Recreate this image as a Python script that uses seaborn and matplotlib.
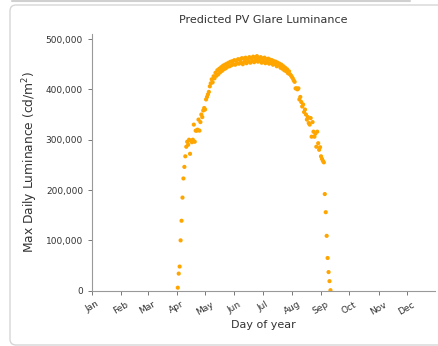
import numpy as np
import pandas as pd
import matplotlib
matplotlib.use('Agg')
import matplotlib.pyplot as plt
import matplotlib.ticker as mticker
from matplotlib.patches import FancyBboxPatch
from matplotlib.transforms import IdentityTransform
import seaborn as sns

# Max daily glare luminance (thousand cd/m2), one value per day from day 92 to day 254
first_day = 92
lum_k = [
    6, 34, 48, 100, 139, 185, 223, 246, 267, 286,
    296, 290, 300, 272, 298, 295, 300, 330, 296, 318,
    318, 320, 340, 318, 335, 350, 345, 358, 363, 360,
    380, 385, 390, 395, 406, 412, 420, 414, 426, 422,
    433, 427, 438, 430, 441, 434, 444, 437, 447, 440,
    449, 442, 451, 445, 453, 446, 455, 448, 456, 450,
    458, 449, 457, 452, 460, 451, 459, 454, 462, 450,
    461, 455, 463, 452, 460, 456, 464, 453, 462, 457,
    465, 454, 463, 458, 466, 455, 462, 457, 464, 453,
    461, 455, 463, 452, 460, 454, 461, 451, 459, 453,
    458, 449, 456, 451, 455, 446, 453, 448, 451, 443,
    449, 441, 446, 438, 443, 436, 440, 432, 436, 430,
    428, 425, 422, 418, 415, 402, 402, 400, 402, 380,
    385, 375, 366, 370, 355, 360, 350, 340, 345, 333,
    330, 343, 306, 335, 316, 306, 312, 286, 316, 293,
    280, 285, 267, 262, 258, 255, 192, 156, 109, 65,
    37, 19, 1,
]
month_days = [1, 32, 60, 91, 121, 152, 182, 213, 244, 274, 305, 335]
month_labels = ['Jan', 'Feb', 'Mar', 'Apr', 'May', 'Jun',
                'Jul', 'Aug', 'Sep', 'Oct', 'Nov', 'Dec']

df = pd.DataFrame({
    'day': np.arange(first_day, first_day + len(lum_k)),
    'lum': np.array(lum_k) * 1000,
})

sns.set_style('ticks')
plt.rcParams['font.family'] = ['DejaVu Sans']

fig = plt.figure(figsize=(4.39, 3.46), dpi=100)

# screenshot card frame
fig.patches.append(FancyBboxPatch((10, 1), 520, 340, boxstyle='round,pad=0,rounding_size=6',
                                  transform=IdentityTransform(), facecolor='white',
                                  edgecolor='#d6d6d6', linewidth=1.0, zorder=-5))
fig.lines.append(plt.Line2D([12, 410], [345, 345], transform=IdentityTransform(),
                            color='#d0d0d0', linewidth=1.5))

ax = fig.add_axes([0.2096, 0.1598, 0.7814, 0.7419])
sns.scatterplot(data=df, x='day', y='lum', ax=ax, color='orange',
                s=9, linewidth=0, edgecolor='none')

ax.set_xlim(1, 365)
ax.set_ylim(0, 510000)
ax.set_xticks(month_days)
ax.set_xticklabels(month_labels, rotation=30, fontsize=6.5, color='#333333')
ax.set_yticks([0, 100000, 200000, 300000, 400000, 500000])
ax.yaxis.set_major_formatter(mticker.StrMethodFormatter('{x:,.0f}'))
ax.tick_params(axis='y', labelsize=6.5, colors='#333333')
ax.tick_params(axis='both', length=3, width=0.7, color='#777777')
for sp in ['left', 'bottom']:
    ax.spines[sp].set_color('#999999')
    ax.spines[sp].set_linewidth(0.8)
sns.despine(ax=ax)

ax.set_title('Predicted PV Glare Luminance', fontsize=8, color='#333333', pad=8)
ax.set_xlabel('Day of year', fontsize=8, color='#333333', labelpad=2)
ax.set_ylabel('Max Daily Luminance (cd/m$^2$)', fontsize=8.8, color='#333333', labelpad=4)

fig.savefig('out.png', dpi=100)
